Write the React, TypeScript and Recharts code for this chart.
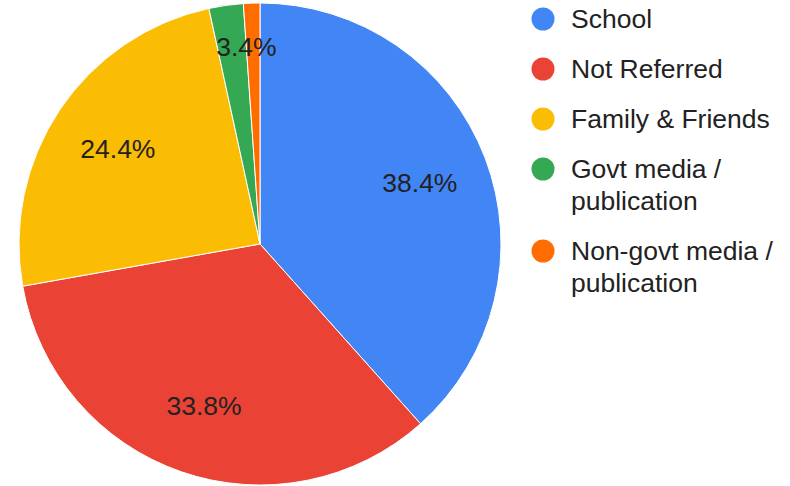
import React from "react";
import { PieChart, Pie, Cell, Legend } from "recharts";

const categories = ["School", "Not Referred", "Family & Friends", "Govt media / publication", "Non-govt media / publication"];
const values = [38.4, 33.8, 24.4, 2.3, 1.1];
const sliceLabels = ["38.4%", "33.8%", "24.4%", "3.4%", ""];
const legendLines = [["School"], ["Not Referred"], ["Family & Friends"], ["Govt media /", "publication"], ["Non-govt media /", "publication"]];
const colors = ["#4285F4", "#EA4335", "#FBBC04", "#34A853", "#FF6D01"];

const data = categories.map((name, i) => ({ name, value: values[i], label: sliceLabels[i] }));

const FONT = "Arial, 'Liberation Sans', sans-serif";
const FS = 26.5;
const RAD = Math.PI / 180;

if (typeof document !== "undefined") {
  document.body.style.margin = "0";
}

const renderLabel = (props: any) => {
  const { cx, cy, outerRadius, midAngle, endAngle, index } = props;
  const text = sliceLabels[index];
  if (!text) return null;
  const small = values[index] < 5;
  const angle = small ? endAngle : midAngle;
  const r = small ? outerRadius * 0.82 : outerRadius * 0.71;
  const x = cx + r * Math.cos(-angle * RAD);
  const y = cy + r * Math.sin(-angle * RAD);
  return (
    <text x={x} y={y} fill="#222" fontSize={FS} fontFamily={FONT} textAnchor="middle" dominantBaseline="central">
      {text}
    </text>
  );
};

const renderLegend = () => {
  let y = 19;
  const items: React.ReactNode[] = [];
  legendLines.forEach((lines, i) => {
    const top = y;
    items.push(
      <g key={i}>
        <circle cx={543} cy={top} r={11.5} fill={colors[i]} />
        {lines.map((ln, j) => (
          <text key={j} x={571} y={top + j * 32} fill="#222" fontSize={FS} fontFamily={FONT} dominantBaseline="central">
            {ln}
          </text>
        ))}
      </g>
    );
    y += 50 + (lines.length - 1) * 32;
  });
  return (
    <svg width={790} height={486} style={{ position: "absolute", left: 0, top: 0 }}>
      {items}
    </svg>
  );
};

export default function App() {
  return (
    <div style={{ width: 790, height: 486, background: "#fff", position: "relative" }}>
      <PieChart width={790} height={486} margin={{ top: 0, right: 0, bottom: 0, left: 0 }}>
        <Pie
          data={data}
          dataKey="value"
          nameKey="name"
          cx={260}
          cy={244}
          outerRadius={241}
          startAngle={90}
          endAngle={-270}
          stroke="#fff"
          strokeWidth={1}
          label={renderLabel}
          labelLine={false}
          isAnimationActive={false}
        >
          {data.map((d, i) => (
            <Cell key={d.name} fill={colors[i]} />
          ))}
        </Pie>
        <Legend content={renderLegend} wrapperStyle={{ left: 0, top: 0, width: 790, height: 486 }} />
      </PieChart>
    </div>
  );
}
